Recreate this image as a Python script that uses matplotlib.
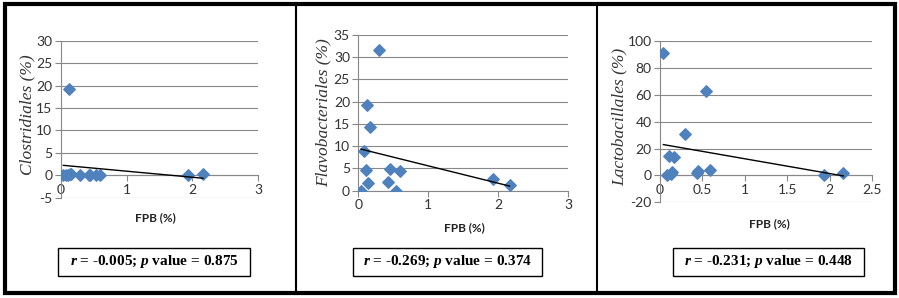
import numpy as np
import matplotlib
matplotlib.use("Agg")
import matplotlib.pyplot as plt
from matplotlib.patches import Rectangle

# FPB (%) values, shared by the three panels
fpb = [0.04, 0.08, 0.11, 0.13, 0.14, 0.16, 0.30, 0.43, 0.45, 0.54, 0.59, 1.93, 2.16]

clostridiales = [0.0, 0.0, 0.0, 19.2, 0.3, 0.2, 0.0, 0.0, 0.0, 0.0, 0.0, 0.0, 0.2]
flavobacteriales = [0.0, 9.0, 4.6, 19.3, 1.7, 14.2, 31.6, 1.9, 4.9, 0.0, 4.4, 2.7, 1.35]
lactobacillales = [90.8, 0.0, 14.4, 1.0, 2.5, 13.6, 31.0, 1.7, 3.0, 62.5, 3.7, 0.0, 2.0]

ylabels = ["Clostridiales (%)", "Flavobacteriales (%)", "Lactobacillales (%)"]
stats = [("-0.005", "0.875"), ("-0.269", "0.374"), ("-0.231", "0.448")]
xticks = [[0, 1, 2, 3], [0, 1, 2, 3], [0, 0.5, 1, 1.5, 2, 2.5]]
xticklabels = [["0", "1", "2", "3"], ["0", "1", "2", "3"], ["0", "0.5", "1", "1.5", "2", "2.5"]]
yticks = [list(range(-5, 31, 5)), list(range(0, 36, 5)), list(range(-20, 101, 20))]

W, H = 899, 298
BLUE = "#4F81BD"
GRID = "#888888"

plt.rcParams["axes.unicode_minus"] = False
plt.rcParams["mathtext.fontset"] = "custom"
plt.rcParams["mathtext.it"] = "Liberation Serif:italic:bold"
plt.rcParams["mathtext.rm"] = "Liberation Serif:bold"


def px_rect(x0, y0, x1, y1):
    # pixel box (top-left origin) -> figure fraction [l, b, w, h]
    return [x0 / W, 1 - y1 / H, (x1 - x0) / W, (y1 - y0) / H]


def draw_panel(fig, rect, y, yt, xt, xtl):
    ax = fig.add_axes(rect)
    x = np.array(fpb)
    yv = np.array(y)
    ax.scatter(x, yv, marker="D", s=34, color=BLUE, edgecolor=BLUE, zorder=3)

    # linear trendline like excel
    k, b = np.polyfit(x, yv, 1)
    xs = np.array([x.min(), x.max()])
    ax.plot(xs, k * xs + b, color="black", lw=1.0, zorder=4)

    ax.set_xlim(xt[0], xt[-1])
    ax.set_ylim(yt[0], yt[-1])
    ax.set_xticks(xt)
    ax.set_xticklabels(xtl)
    ax.set_yticks(yt)
    ax.grid(axis="y", color=GRID, lw=0.8, zorder=0)
    ax.set_axisbelow(True)
    for s in ["top", "right"]:
        ax.spines[s].set_visible(False)
    ax.spines["bottom"].set_position(("data", 0))
    ax.spines["bottom"].set_color(GRID)
    ax.spines["left"].set_color(GRID)
    ax.spines["bottom"].set_linewidth(0.8)
    ax.spines["left"].set_linewidth(0.8)
    ax.tick_params(axis="both", color=GRID, length=4, width=0.8, pad=2,
                   labelsize=10, labelcolor="#333333")
    for lab in ax.get_xticklabels() + ax.get_yticklabels():
        lab.set_family("Lato")
    return ax


fig = plt.figure(figsize=(W / 100, H / 100), dpi=100)

panels = [
    (px_rect(60.7, 40.7, 258.3, 197.7), clostridiales),
    (px_rect(358.3, 34.7, 568.3, 190.7), flavobacteriales),
    (px_rect(660.0, 41.0, 872.3, 202.3), lactobacillales),
]
for i, (rect, y) in enumerate(panels):
    draw_panel(fig, rect, y, yticks[i], xticks[i], xticklabels[i])

# y labels
for (x, y), lab in zip([(27, 115), (323, 113), (620, 117)], ylabels):
    fig.text(x / W, 1 - y / H, lab, rotation=90, ha="center", va="center",
             family="Liberation Serif", style="italic", fontsize=12.5, color="#333333")

# x labels
for x, y in [(155, 218), (464, 228), (769, 224)]:
    fig.text(x / W, 1 - y / H, "FPB (%)", ha="center", va="center",
             family="Lato", weight="bold", fontsize=8.5, color="#222222")

# stats boxes
boxes = [(58, 248, 250, 276), (353, 248, 542, 276), (673, 248, 864, 276)]
for (x0, y0, x1, y1), (r, p) in zip(boxes, stats):
    fig.patches.append(Rectangle((x0 / W, 1 - y1 / H), (x1 - x0) / W, (y1 - y0) / H,
                                 transform=fig.transFigure, fill=False,
                                 edgecolor="black", lw=1.0))
    fig.text((x0 + x1) / 2 / W, 1 - (y0 + y1) / 2 / H,
             r"$\mathit{r}$ = " + r + r"; $\mathit{p}$ value = " + p,
             ha="center", va="center", family="Liberation Serif",
             weight="bold", fontsize=11, color="black")

# outer frame and dividers
fig.patches.append(Rectangle((5 / W, 1 - 293 / H), 890 / W, 289 / H,
                             transform=fig.transFigure, fill=False,
                             edgecolor="black", lw=3.0))
for xd in [295.5, 596.5]:
    fig.add_artist(plt.Line2D([xd / W, xd / W], [1 - 293 / H, 1 - 4 / H],
                              transform=fig.transFigure, color="black", lw=1.5))

plt.savefig("out.png", dpi=100)
plt.close()
